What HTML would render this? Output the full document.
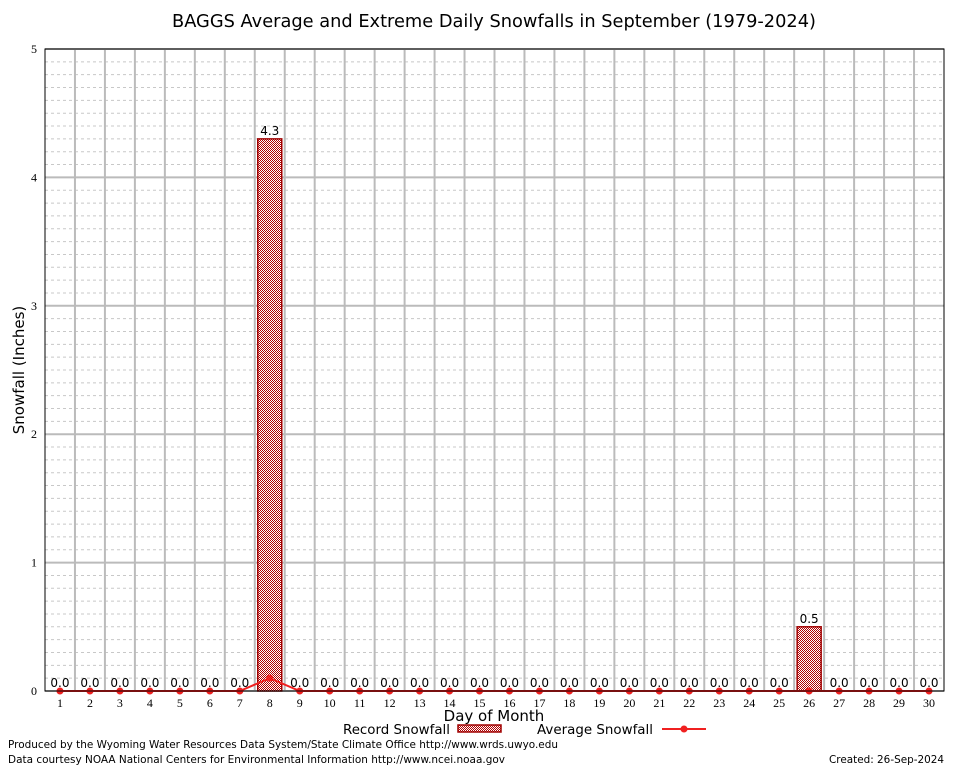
<!DOCTYPE html>
<html><head><meta charset="utf-8"><style>
body{margin:0;background:#fff;}
svg{display:block;font-family:"DejaVu Sans","Liberation Sans",sans-serif;}
</style></head><body>
<svg id="chart" width="954" height="768">
<defs>
<pattern id="hatch" width="2" height="2" patternUnits="userSpaceOnUse">
<rect width="2" height="2" fill="#fff"/><rect width="1" height="1" fill="#b00000"/><rect x="1" y="1" width="1" height="1" fill="#b00000"/>
</pattern>
</defs>
<text x="494" y="27" text-anchor="middle" font-size="18" textLength="644" lengthAdjust="spacingAndGlyphs">BAGGS Average and Extreme Daily Snowfalls in September (1979-2024)</text>
<g id="grid"></g>
<g id="marks"></g>
<rect x="45" y="49" width="899" height="642" fill="none" stroke="#000" stroke-width="1"/>
<text transform="translate(24,370) rotate(-90)" text-anchor="middle" font-size="15">Snowfall (Inches)</text>
<text x="494" y="721" text-anchor="middle" font-size="15">Day of Month</text>
<g>
<text x="343" y="734" font-size="13" textLength="107" lengthAdjust="spacingAndGlyphs">Record Snowfall</text>
<rect x="458" y="725" width="43" height="7" fill="url(#hatch)" stroke="#a00000" stroke-width="1.5"/>
<text x="537" y="734" font-size="13" textLength="116" lengthAdjust="spacingAndGlyphs">Average Snowfall</text>
<line x1="662" y1="729" x2="706" y2="729" stroke="#f02020" stroke-width="2"/>
<circle cx="684" cy="729" r="3.5" fill="#f02020"/>
</g>
<text x="8" y="748" font-size="11" textLength="550" lengthAdjust="spacingAndGlyphs">Produced by the Wyoming Water Resources Data System/State Climate Office http://www.wrds.uwyo.edu</text>
<text x="8" y="763" font-size="11" textLength="497" lengthAdjust="spacingAndGlyphs">Data courtesy NOAA National Centers for Environmental Information http://www.ncei.noaa.gov</text>
<text x="944" y="763" text-anchor="end" font-size="11" textLength="115" lengthAdjust="spacingAndGlyphs">Created:  26-Sep-2024</text>
</svg>
<script>
const days=[1,2,3,4,5,6,7,8,9,10,11,12,13,14,15,16,17,18,19,20,21,22,23,24,25,26,27,28,29,30];
const recordVals=[0,0,0,0,0,0,0,4.3,0,0,0,0,0,0,0,0,0,0,0,0,0,0,0,0,0,0.5,0,0,0,0];
const averageVals=[0,0,0,0,0,0,0,0.1,0,0,0,0,0,0,0,0,0,0,0,0,0,0,0,0,0,0,0,0,0,0];
const yTicks=[0,1,2,3,4,5];
const L=45,R=944,T=49,B=691,YMAX=5;
const step=(R-L)/days.length;
const xs=d=>L+(d-0.5)*step;
const ys=v=>B-(v/YMAX)*(B-T);
const NS="http://www.w3.org/2000/svg";
function mk(tag,attrs,parent){const e=document.createElementNS(NS,tag);for(const k in attrs)e.setAttribute(k,attrs[k]);parent.appendChild(e);return e;}
const grid=document.getElementById('grid'),marks=document.getElementById('marks');
for(let v=0.1;v<YMAX-0.001;v+=0.1){
 if(Math.abs(v-Math.round(v))<0.01)continue;
 const l=mk('line',{x1:L,x2:R,y1:ys(v),y2:ys(v),stroke:'#c8c8c8','stroke-dasharray':'3,3'},grid);
 
 
}
yTicks.forEach(t=>{
 const l=mk('line',{x1:L,x2:R,y1:ys(t),y2:ys(t),stroke:'#bbb','stroke-width':2},grid);
 
 
 const tx=mk('text',{x:L-8,y:ys(t)+4,'text-anchor':'end','font-size':12,'font-family':'Liberation Serif, serif'},grid);
 tx.textContent=t;
 
 
});
days.forEach((d,i)=>{
 if(i>0){const l=mk('line',{x1:L+i*step,x2:L+i*step,y1:T,y2:B,stroke:'#bbb','stroke-width':2},grid);
 
 }
 const tx=mk('text',{x:xs(d),y:B+16,'text-anchor':'middle','font-size':12,'font-family':'Liberation Serif, serif'},grid);
 tx.textContent=d;
 
 
});
days.forEach((d,i)=>{
 const v=recordVals[i];
 if(v>0){const r=mk('rect',{x:xs(d)-12,y:ys(v),width:24,height:B-ys(v),fill:'url(#hatch)',stroke:'#a00000','stroke-width':1.5},marks);
 
 }
 const tx=mk('text',{x:xs(d),y:ys(v)-4,'text-anchor':'middle','font-size':12},marks);
 tx.textContent=v.toFixed(1);
 
 
});
const pts=days.map((d,i)=>xs(d)+','+ys(averageVals[i])).join(' ');
const pl=mk('polyline',{points:pts,fill:'none',stroke:'#f02020','stroke-width':2},marks);


days.forEach((d,i)=>{
 const c=mk('circle',{cx:xs(d),cy:ys(averageVals[i]),r:3.5,fill:'#f02020'},marks);
 
 
});
mk('line',{x1:L,x2:R,y1:B,y2:B,stroke:'#000'},marks);
</script>
</body></html>
